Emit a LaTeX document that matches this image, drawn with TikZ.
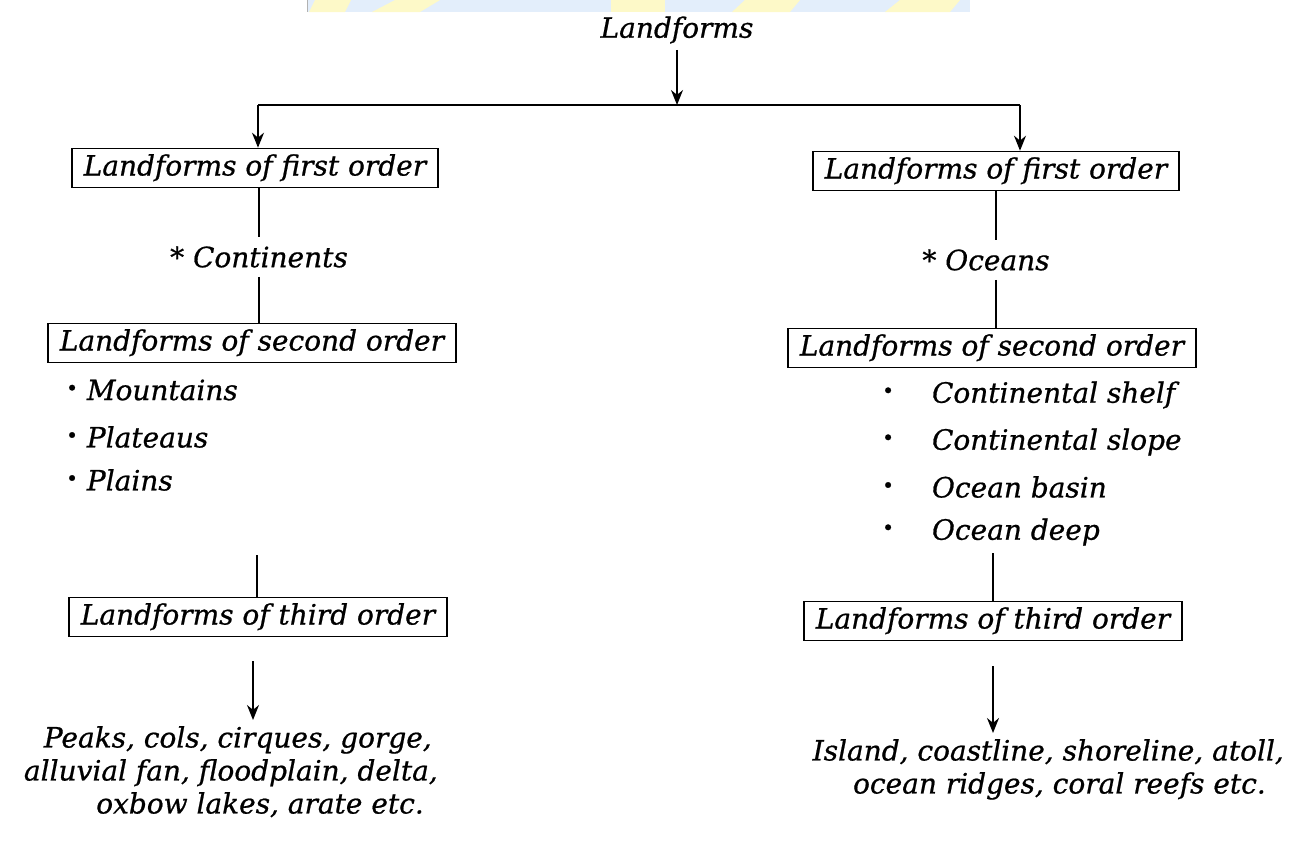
\documentclass[tikz,border=0pt]{standalone}
\usepackage{fontspec}
\setmainfont{DejaVu Serif}[ItalicFeatures={FakeBold=0.7}]
\usepackage{tikz}
\usepackage{xcolor}
\definecolor{band-blue}{HTML}{E3EEFB}
\definecolor{band-yellow}{HTML}{FDF9C8}
\tikzset{
    order-box/.style = {draw=black, line width=1.6pt, rectangle, inner xsep=12pt, inner ysep=6pt, text height=21pt, text depth=6pt, font=\fontsize{28}{33}\selectfont\itshape},
    plain-text/.style = {inner sep=6pt, font=\fontsize{28}{33}\selectfont\itshape},
    item-text/.style = {plain-text, anchor=west, inner sep=0pt},
    leaf-text/.style = {plain-text, align=right, font=\fontsize{28}{33}\selectfont\itshape},
    link/.style = {line width=1.5pt},
    down-arrow/.style = {line width=1.8pt, -{Stealth[length=15pt,width=12pt]}},
}
\usetikzlibrary{arrows.meta}
\newcommand{\dotmark}{{\fontsize{20}{20}\selectfont\raisebox{5pt}{•}}}

\begin{document}
\begin{tikzpicture}[x=1pt,y=-1pt]
\useasboundingbox (0,0) rectangle (1298,847);
% watermark strip on top
\fill[band-blue] (307,0) rectangle (970,12);
\fill[band-yellow] (315,0) -- (351,0) -- (345,12) -- (309,12) -- cycle;
\fill[band-yellow] (395,0) -- (440,0) -- (420,12) -- (372,12) -- cycle;
\fill[band-yellow] (611,0) -- (665,0) -- (665,12) -- (611,12) -- cycle;
\fill[band-yellow] (745,0) -- (800,0) -- (790,12) -- (732,12) -- cycle;
\fill[band-yellow] (900,0) -- (960,0) -- (950,12) -- (885,12) -- cycle;
\draw[gray!60, line width=0.6pt] (307,0) -- (307,12);

\node[plain-text] (root) at (677,30) {Landforms};
\coordinate (split) at (677,105);
\coordinate (split-left) at (258,105);
\coordinate (split-right) at (1020,105);

% left side: continents
\node[order-box] (left-first) at (255,168) {Landforms of first order};
\node[plain-text, inner ysep=9pt] (continents) at (259,257) {* Continents};
\node[order-box] (left-second) at (252,343) {Landforms of second order};
\node[item-text] (mountains) at (66,390) {\dotmark\ Mountains};
\node[item-text] (plateaus) at (66,437) {\dotmark\ Plateaus};
\node[item-text] (plains) at (66,480) {\dotmark\ Plains};
\coordinate (left-gap) at (257,555);
\node[order-box] (left-third) at (258,617) {Landforms of third order};
\node[leaf-text, anchor=north east] (left-leaves) at (444,720) {Peaks, cols, cirques, gorge,\hspace{6pt}\mbox{}\\alluvial fan, floodplain, delta,\\oxbow lakes, arate etc.\hspace{14pt}\mbox{}};

% right side: oceans
\node[order-box] (right-first) at (996,171) {Landforms of first order};
\node[plain-text, inner ysep=9pt] (oceans) at (986,260) {* Oceans};
\node[order-box] (right-second) at (992,348) {Landforms of second order};
\node[item-text] (shelf) at (882,395) {\dotmark\hspace{38pt}Continental shelf};
\node[item-text] (slope) at (882,442) {\dotmark\hspace{38pt}Continental slope};
\node[item-text] (basin) at (882,487) {\dotmark\hspace{38pt}Ocean basin};
\node[item-text] (deep) at (882,532) {\dotmark\hspace{38pt}Ocean deep};
\coordinate (right-gap) at (993,553);
\node[order-box] (right-third) at (993,621) {Landforms of third order};
\node[leaf-text, anchor=north east] (right-leaves) at (1290,733) {Island, coastline, shoreline, atoll,\\ocean ridges, coral reefs etc.\hspace{18pt}\mbox{}};

% connectors
\draw[down-arrow] (root) -- (split);
\draw[line width=2.4pt] (split-left) -- (split-right);
\draw[down-arrow] (split-left) -- (split-left |- left-first.north);
\draw[down-arrow] (split-right) -- (split-right |- right-first.north);
\draw[link] (left-first.south -| continents) -- (continents.north);
\draw[link] (continents.south) -- (continents.south |- left-second.north);
\draw[link] (left-gap) -- (left-gap |- left-third.north);
\draw[down-arrow] ([xshift=-5pt,yshift=-24pt]left-third.south) -- ([xshift=-5pt]left-third.south |- left-leaves.north);
\draw[link] (right-first.south) -- (right-first.south |- oceans.north);
\draw[link] (right-first.south |- oceans.south) -- (right-first.south |- right-second.north);
\draw[link] (right-gap) -- (right-gap |- right-third.north);
\draw[down-arrow] ([yshift=-25pt]right-third.south) -- (right-third.south |- right-leaves.north);
\end{tikzpicture}
\end{document}
